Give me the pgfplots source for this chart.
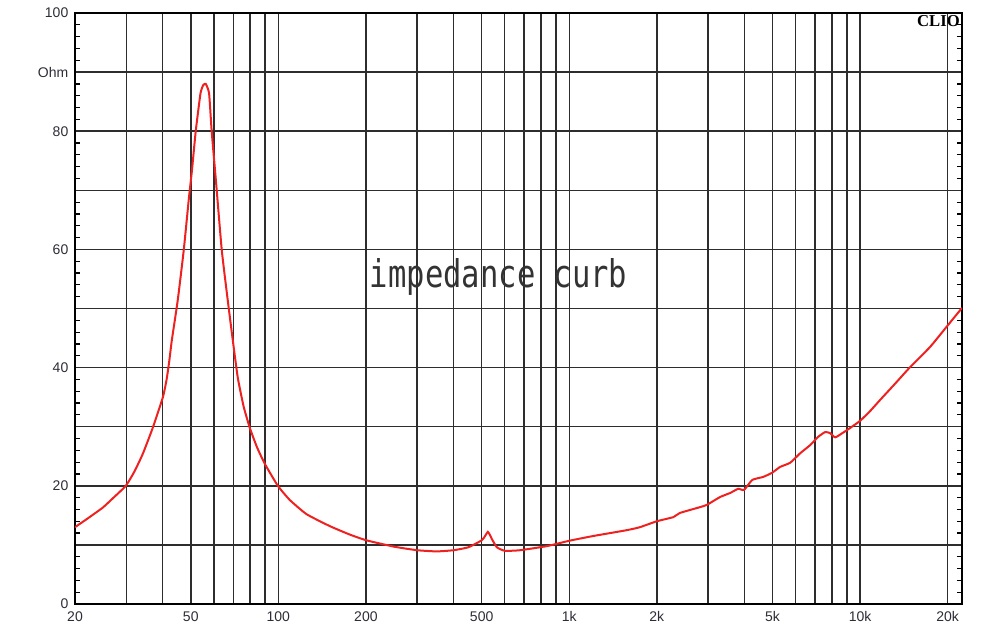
\documentclass[border=0pt]{standalone}
\usepackage{pgfplots}
\pgfplotsset{compat=1.18}
\usepackage{fontspec}
\usepackage{graphicx}
\setmainfont{Liberation Sans}
\newfontfamily\monofont{DejaVu Sans Mono}
\newfontfamily\cliofont{Liberation Serif}

\definecolor{curve}{RGB}{238,32,32}
\definecolor{gridc}{RGB}{45,45,45}
\definecolor{labelc}{RGB}{45,45,55}

\pgfplotstableread{
f z
20 13.0
22 14.4
24.9 16.3
27 17.9
29.9 20.0
32 22.4
34.2 25.4
37.0 29.8
40.1 35.0
41.3 38.0
42.2 41.2
43.0 44.5
45.1 51.4
47.3 59.9
49.2 68.4
50.5 73.5
52.0 80.0
54.0 86.4
55.2 87.8
56.3 88.0
57.8 86.4
59.0 80.0
61.0 71.7
63.9 59.9
67.0 51.4
69.7 44.7
72.6 38.2
76 33.4
79.8 29.8
84.5 26.5
89.9 23.7
99.6 20.0
109.5 17.6
125 15.2
150 13.2
175 11.8
200 10.8
250 9.7
300 9.1
350 8.9
400 9.1
450 9.6
501 10.8
515 11.6
525 12.2
535 11.6
542 11.0
564 9.6
601 9.0
677 9.1
839 9.8
1000 10.7
1208 11.5
1580 12.5
1750 13.0
2000 14.0
2280 14.7
2400 15.4
2820 16.4
2980 16.8
3300 18.1
3580 18.8
3810 19.5
3990 19.3
4260 21.0
4640 21.5
4980 22.2
5310 23.2
5750 23.9
6220 25.5
6740 26.9
7180 28.3
7590 29.1
7890 28.9
8210 28.2
8680 28.9
9250 29.8
10000 31.0
10800 32.6
11700 34.5
13200 37.3
14800 40.0
17400 43.5
19900 47.0
22400 50.1
}\impedance

\begin{document}
\begin{tikzpicture}
\begin{axis}[
    name=main,
    xmode=log,
    scale only axis,
    width=665.25pt, height=443.25pt,
    xmin=20, xmax=22400,
    ymin=0, ymax=100,
    xtick={20,30,40,50,60,70,80,90,100,200,300,400,500,600,700,800,900,1000,2000,3000,4000,5000,6000,7000,8000,9000,10000,20000},
    xticklabels={20,,,50,,,,,100,200,,,500,,,,,1k,2k,,,5k,,,,,10k,20k},
    ytick={0,10,...,100},
    yticklabels={0,,20,,40,,60,,80,Ohm,100},
    minor y tick num=4,
    grid=major,
    major grid style={gridc, line width=1.1pt},
    major tick length=0pt,
    minor tick length=4pt,
    tick align=inside,
    ytick pos=both,
    minor y tick style={line width=0.9pt, black},
    axis line style={line width=1.5pt, black},
    tick label style={font=\fontsize{10.5}{12}\selectfont, text=labelc},
    xticklabel style={yshift=-2.25pt},
    yticklabel style={xshift=-1.5pt},
]
\addplot[curve, line width=1.5pt, smooth, tension=0.3] table[x=f, y=z] {\impedance};
\node[anchor=north, font=\fontsize{10.5}{12}\selectfont, text=labelc, xshift=7.5pt, yshift=-2.25pt] at (axis cs:3000,0) {Hz};
\node[anchor=base, inner sep=0pt, text=black!80] at (axis cs:572,53.5)
    {\scalebox{1}[1.25]{\monofont\fontsize{22.9}{26}\selectfont impedance curb}};
\end{axis}
\node[anchor=north east, inner sep=0pt, font=\cliofont\bfseries\fontsize{12.5}{14}\selectfont]
    at ([xshift=-1.5pt, yshift=-1.5pt]main.north east) {CLIO};
\path ([shift={(-56.25pt,-24pt)}]main.south west) rectangle ([shift={(28.5pt,9.75pt)}]main.north east);
\end{tikzpicture}
\end{document}
